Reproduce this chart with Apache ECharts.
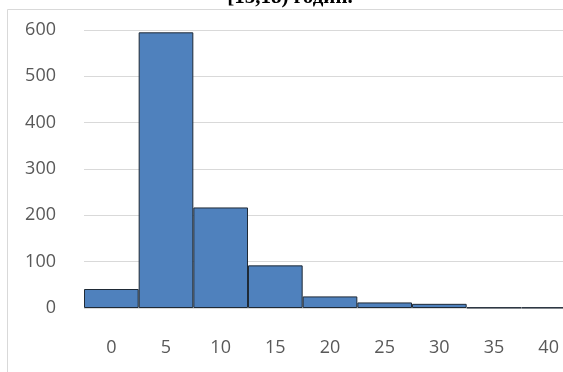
<!DOCTYPE html>
<html>
<head>
<meta charset="utf-8">
<script src="https://cdn.jsdelivr.net/npm/echarts@6/dist/echarts.min.js"></script>
<style>html,body{margin:0;padding:0;background:#fff;overflow:hidden;width:563px;height:372px;}#c{width:576px;height:372px;}</style>
</head>
<body>
<div id="c"></div>
<script>
const titleText = '[15,18) годин.';
const categories = ['0', '5', '10', '15', '20', '25', '30', '35', '40'];
const counts = [41, 595, 217, 92, 25, 12, 9, 1, 1];
const yTicks = [0, 100, 200, 300, 400, 500, 600];

const chart = echarts.init(document.getElementById('c'));
chart.setOption({
  animation: false,
  backgroundColor: '#ffffff',
  graphic: [{
    type: 'rect', x: 7.5, y: 9.5, shape: {width: 600, height: 400},
    style: {fill: 'none', stroke: '#d9d9d9', lineWidth: 1}, z: -1
  }, {
    type: 'text', x: 290, y: 8,
    style: {text: titleText, fill: '#000', font: 'bold 21px "Liberation Serif"', textAlign: 'center', textVerticalAlign: 'bottom'}
  }],
  grid: {left: 84, top: 30, bottom: 64, right: 0, containLabel: false},
  xAxis: {
    type: 'category', data: categories,
    axisLine: {show: false}, axisTick: {show: false},
    axisLabel: {color: '#595959', fontFamily: 'Open Sans', fontSize: 18, margin: 31}
  },
  yAxis: {
    type: 'value', min: yTicks[0], max: yTicks[yTicks.length - 1], interval: 100,
    axisLine: {show: false}, axisTick: {show: false},
    splitLine: {lineStyle: {color: '#d9d9d9', width: 1}},
    axisLabel: {color: '#595959', fontFamily: 'Open Sans', fontSize: 18, margin: 28}
  },
  series: [{
    type: 'bar', data: counts, barCategoryGap: '0%',
    itemStyle: {color: '#4f81bd', borderColor: '#1f2a36', borderWidth: 1}
  }]
});
</script>
</body>
</html>
